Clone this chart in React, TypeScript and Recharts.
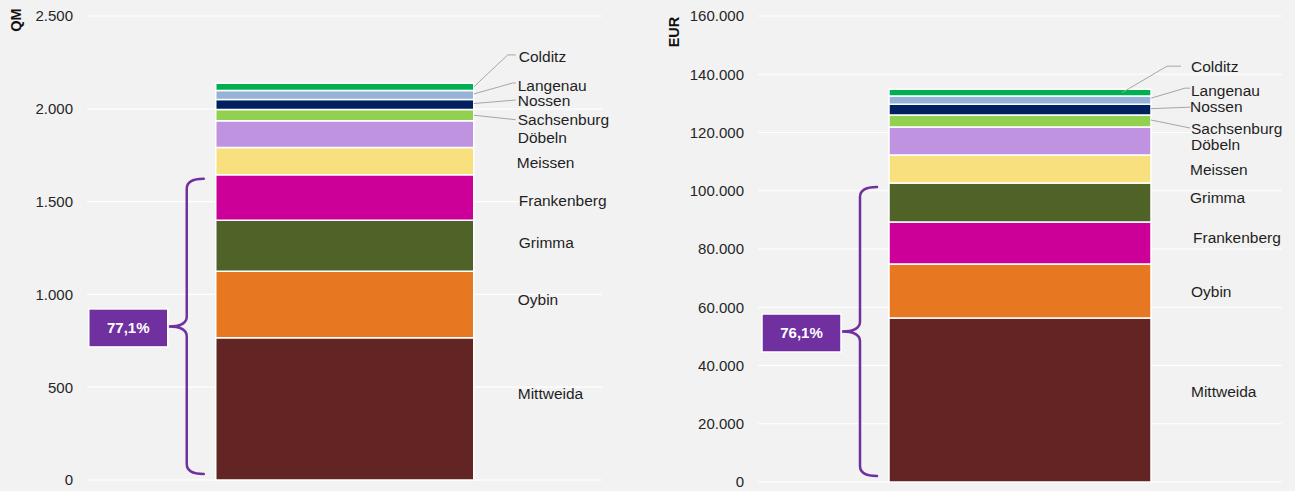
import React from 'react';
import { BarChart, Bar, XAxis, YAxis, CartesianGrid, LabelList, ReferenceArea } from 'recharts';

// ---------- DATA ----------
const qmNames = ['Mittweida', 'Oybin', 'Grimma', 'Frankenberg', 'Meissen', 'Döbeln', 'Sachsenburg', 'Nossen', 'Langenau', 'Colditz'];
const qmValues = [766, 359, 275, 244, 148, 143, 61, 54, 49, 38];
const qmTicks = [0, 500, 1000, 1500, 2000, 2500];
const qmShare = '77,1%';
const qmTitle = 'QM';

const eurNames = ['Mittweida', 'Oybin', 'Frankenberg', 'Grimma', 'Meissen', 'Döbeln', 'Sachsenburg', 'Nossen', 'Langenau', 'Colditz'];
const eurValues = [56300, 18550, 14420, 13390, 9610, 9620, 4110, 3680, 2850, 2300];
const eurTicks = [0, 20000, 40000, 60000, 80000, 100000, 120000, 140000, 160000];
const eurShare = '76,1%';
const eurTitle = 'EUR';

const braceCount = 4; // first four locations form the bracketed share

// ---------- STYLE ----------
const COLORS: Record<string, string> = {
  Mittweida: '#632523',
  Oybin: '#E87722',
  Grimma: '#4F6228',
  Frankenberg: '#CC0099',
  Meissen: '#F9E07F',
  'Döbeln': '#BF93E0',
  Sachsenburg: '#92D050',
  Nossen: '#002060',
  Langenau: '#95B3D7',
  Colditz: '#00B050',
};
const FONT = '"Liberation Sans", Arial, Helvetica, sans-serif';
const PURPLE = '#7030A0';
const TEXT = '#1f1f1f';
const LEADER = '#a6a6a6';

type Pt = { ref: 'bar' | 'label'; dx: number; dy: number };
type LabelCfg = { dy: number; dx?: number; leader?: Pt[] };

const qmLabels: Record<string, LabelCfg> = {
  Mittweida: { dy: -15 },
  Oybin: { dy: -5 },
  Grimma: { dy: -3, dx: 1 },
  Frankenberg: { dy: 3, dx: 1 },
  Meissen: { dy: 1, dx: -1 },
  'Döbeln': { dy: 3.5 },
  Sachsenburg: { dy: 4.5, leader: [{ ref: 'bar', dx: 0, dy: 0 }, { ref: 'label', dx: -2, dy: 0 }] },
  Nossen: { dy: -3.5, leader: [{ ref: 'bar', dx: 0, dy: -1 }, { ref: 'label', dx: -2, dy: -1 }] },
  Langenau: { dy: -9, leader: [{ ref: 'bar', dx: 0, dy: -1 }, { ref: 'label', dx: -5, dy: -3 }, { ref: 'label', dx: -2, dy: -3 }] },
  Colditz: { dy: -30, dx: 1, leader: [{ ref: 'bar', dx: 0, dy: 0 }, { ref: 'label', dx: -11, dy: -2 }, { ref: 'label', dx: -3, dy: -2 }] },
};

const eurLabels: Record<string, LabelCfg> = {
  Mittweida: { dy: -8 },
  Oybin: { dy: 1 },
  Frankenberg: { dy: -5, dx: 2 },
  Grimma: { dy: -4.5, dx: -1 },
  Meissen: { dy: 1, dx: -1 },
  'Döbeln': { dy: 4 },
  Sachsenburg: { dy: 8, leader: [{ ref: 'bar', dx: 0, dy: -1 }, { ref: 'label', dx: -1, dy: -1 }] },
  Nossen: { dy: -3.5, dx: -1, leader: [{ ref: 'bar', dx: 0, dy: -1 }, { ref: 'label', dx: 0, dy: 1 }] },
  Langenau: { dy: -10, leader: [{ ref: 'bar', dx: 0, dy: -2 }, { ref: 'label', dx: -6, dy: -2 }, { ref: 'label', dx: -1, dy: -2 }] },
  Colditz: { dy: -26.5, leader: [{ ref: 'bar', dx: -29, dy: 0 }, { ref: 'label', dx: -24, dy: 0 }, { ref: 'label', dx: -10, dy: 0 }] },
};

const fmt = (v: number) => String(Math.round(v)).replace(/\B(?=(\d{3})+(?!\d))/g, '.');

function makeLabel(name: string, cfg: LabelCfg, textOffset: number) {
  return (props: any) => {
    const vb = props.viewBox || props;
    const x = Number(vb.x), w = Number(vb.width);
    const y0 = Number(vb.y), h = Number(vb.height);
    const top = Math.min(y0, y0 + h);
    const cy = top + Math.abs(h) / 2;
    const R = x + w;
    const L = R + textOffset + (cfg.dx || 0);
    const Y = cy + cfg.dy;
    let path: string | null = null;
    if (cfg.leader) {
      path = cfg.leader
        .map((p, i) => {
          const px = p.ref === 'bar' ? R + p.dx : L + p.dx;
          const py = p.ref === 'bar' ? cy + p.dy : Y + p.dy;
          return `${i === 0 ? 'M' : 'L'}${px},${py}`;
        })
        .join(' ');
    }
    return (
      <g>
        {path && <path d={path} stroke={LEADER} strokeWidth={1} fill="none" />}
        <text x={L} y={Y} dy="0.35em" fontSize={15.5} fill={TEXT} fontFamily={FONT}>
          {name}
        </text>
      </g>
    );
  };
}

function braceShape(share: string) {
  return (props: any) => {
    const x = Number(props.x), w = Number(props.width);
    const y = Number(props.y), h = Number(props.height);
    const cx = x + w / 2;
    const BL = cx - w * 0.25;
    const yT = y + 4;
    const yB = y + h - 6;
    const yM = (yT + yB) / 2;
    const xe = BL - 12;
    const xv = BL - 29;
    const xt = BL - 47;
    const r = 10;
    const d = `M${xe},${yT} Q${xv},${yT} ${xv},${yT + r} L${xv},${yM - r} Q${xv},${yM} ${xt},${yM} Q${xv},${yM} ${xv},${yM + r} L${xv},${yB - r} Q${xv},${yB} ${xe},${yB}`;
    const bw = 79, bh = 38;
    const bx = BL - 48 - bw;
    const by = yM + 1.5 - bh / 2;
    return (
      <g>
        <path d={d} stroke={PURPLE} strokeWidth={2.5} fill="none" strokeLinecap="round" />
        <rect x={bx} y={by} width={bw} height={bh} fill={PURPLE} stroke="#ffffff" strokeWidth={1.5} />
        <text x={bx + bw / 2} y={by + bh / 2} dy="0.35em" textAnchor="middle" fontSize={15} fontWeight="bold" fill="#ffffff" fontFamily={FONT}>
          {share}
        </text>
      </g>
    );
  };
}

type ChartProps = {
  names: string[];
  values: number[];
  ticks: number[];
  share: string;
  labels: Record<string, LabelCfg>;
  width: number;
  height: number;
  margin: { top: number; right: number; bottom: number; left: number };
  axisWidth: number;
  textOffset: number;
};

function StackChart(p: ChartProps) {
  const row: Record<string, any> = { name: 'total' };
  p.names.forEach((n, i) => (row[n] = p.values[i]));
  const braceTop = p.values.slice(0, braceCount).reduce((a, b) => a + b, 0);
  const max = p.ticks[p.ticks.length - 1];
  return (
    <BarChart width={p.width} height={p.height} data={[row]} margin={p.margin} barCategoryGap="25%">
      <CartesianGrid vertical={false} stroke="#ffffff" strokeWidth={1.2} />
      <XAxis dataKey="name" hide />
      <YAxis
        type="number"
        domain={[0, max]}
        ticks={p.ticks}
        interval={0}
        width={p.axisWidth}
        axisLine={false}
        tickLine={false}
        tickSize={0}
        tickMargin={14}
        tickFormatter={fmt}
        tick={{ fontSize: 15, fill: '#262626', fontFamily: FONT }}
      />
      {p.names.map((n) => (
        <Bar key={n} dataKey={n} stackId="s" fill={COLORS[n]} stroke="#ffffff" strokeWidth={1.5} isAnimationActive={false}>
          <LabelList dataKey={n} content={makeLabel(n, p.labels[n] || { dy: 0 }, p.textOffset)} />
        </Bar>
      ))}
      <ReferenceArea y1={0} y2={braceTop} fill="none" stroke="none" shape={braceShape(p.share)} ifOverflow="visible" />
    </BarChart>
  );
}

const titleStyle = (cx: number, cy: number): React.CSSProperties => ({
  position: 'absolute',
  left: cx - 25,
  top: cy - 8,
  width: 50,
  height: 16,
  lineHeight: '16px',
  textAlign: 'center',
  transform: 'rotate(-90deg)',
  fontFamily: FONT,
  fontWeight: 'bold',
  fontSize: 14.5,
  color: '#111',
});

export default function App() {
  return (
    <div style={{ position: 'fixed', left: 0, top: 0, width: 1295, height: 491, background: '#f2f2f2', overflow: 'hidden', fontFamily: FONT }}>
      <div style={{ position: 'absolute', left: 0, top: 0 }}>
        <StackChart
          names={qmNames}
          values={qmValues}
          ticks={qmTicks}
          share={qmShare}
          labels={qmLabels}
          width={640}
          height={491}
          margin={{ top: 16, right: 38, bottom: 11, left: 0 }}
          axisWidth={87}
          textOffset={44}
        />
      </div>
      <div style={{ position: 'absolute', left: 640, top: 0 }}>
        <StackChart
          names={eurNames}
          values={eurValues}
          ticks={eurTicks}
          share={eurShare}
          labels={eurLabels}
          width={655}
          height={491}
          margin={{ top: 16, right: 13, bottom: 9, left: 0 }}
          axisWidth={118}
          textOffset={40}
        />
      </div>
      <div style={titleStyle(16, 20)}>{qmTitle}</div>
      <div style={titleStyle(674, 32)}>{eurTitle}</div>
    </div>
  );
}
